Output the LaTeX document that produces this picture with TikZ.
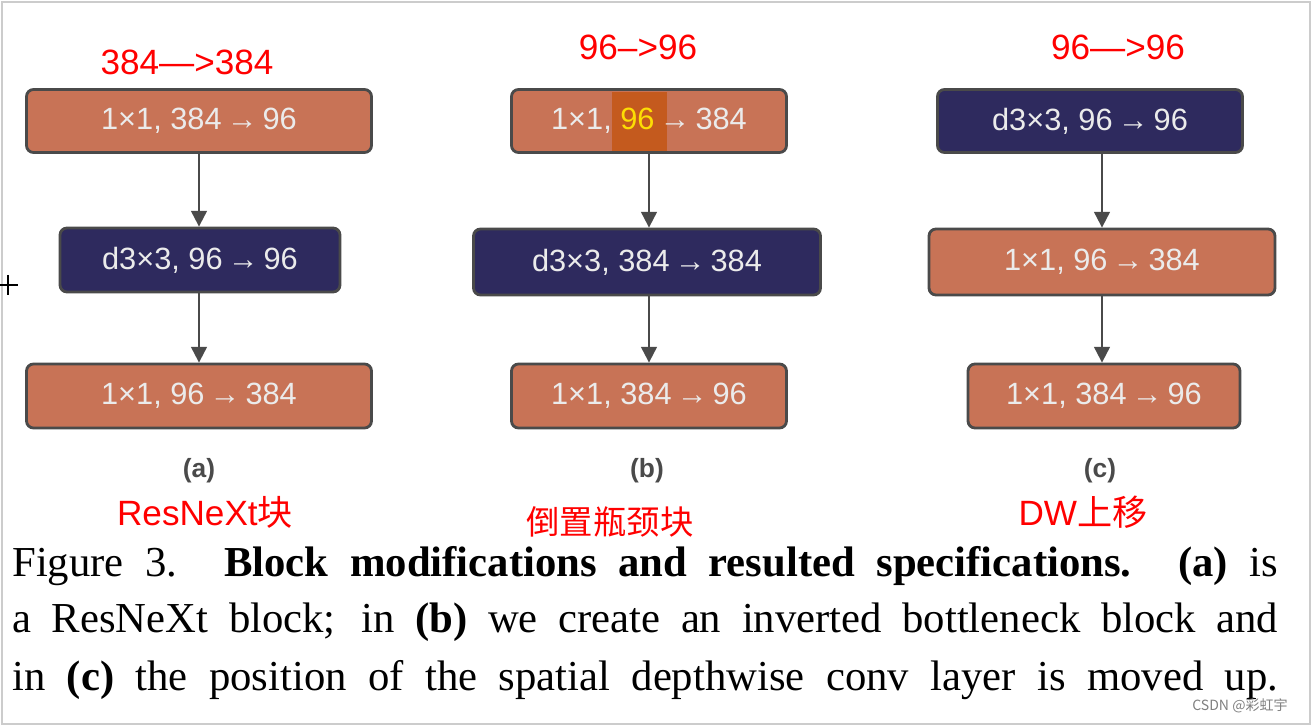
\documentclass[tikz,border=0pt]{standalone}
\usepackage{fontspec}
\setmainfont{Liberation Serif}
\newfontfamily\sfont{Liberation Sans}
\newfontfamily\cjk{Noto Sans CJK SC}
\usetikzlibrary{arrows.meta}
\definecolor{org}{HTML}{C87356}
\definecolor{nav}{HTML}{2E2A5E}
\definecolor{bd}{HTML}{4A4A4A}
\definecolor{hl}{HTML}{C45A1E}
\begin{document}
\begin{tikzpicture}[x=0.02cm,y=-0.02cm,
  blk/.style={draw=bd,line width=1.6pt,rounded corners=4pt,font=\sfont\fontsize{17.5}{19}\selectfont,text=white!92!black,inner sep=0},
  o/.style={blk,fill=org},
  n/.style={blk,fill=nav},
  arr/.style={draw=bd,line width=1.2pt,-{Triangle[length=9pt,width=9pt]}},
  red/.style={text=red,font=\sfont\fontsize{20}{22}\selectfont},
  cred/.style={text=red,font=\cjk\fontsize{19}{21}\selectfont},
  lab/.style={text=bd,font=\sfont\bfseries\fontsize{15}{17}\selectfont},
  captxt/.style={anchor=west,inner sep=0,font=\fontsize{24.3}{26}\selectfont}]
\useasboundingbox (0,0) rectangle (1312,726);
\draw[gray!40,line width=1pt] (2,2) rectangle (1310,724);
% (a)
\node[o,minimum width=345*0.02cm,minimum height=63*0.02cm] (a1) at (199,121) {1×1, 384\,→\,96};
\node[n,minimum width=280*0.02cm,minimum height=64*0.02cm] (a2) at (200,260) {d3×3, 96\,→\,96};
\node[o,minimum width=345*0.02cm,minimum height=64*0.02cm] (a3) at (199,396) {1×1, 96\,→\,384};
% (b)
\node[o,minimum width=275*0.02cm,minimum height=63*0.02cm] (b1) at (649,121) {};
\fill[hl] (612,92) rectangle (667,151);
\node[blk,draw=none,anchor=center] (b1t) at (b1.center) {1×1, \textcolor{yellow!80!orange}{96}\,→\,384};
\node[n,minimum width=347*0.02cm,minimum height=66*0.02cm] (b2) at (647,262) {d3×3, 384\,→\,384};
\node[o,minimum width=275*0.02cm,minimum height=64*0.02cm] (b3) at (649,396) {1×1, 384\,→\,96};
% (c)
\node[n,minimum width=305*0.02cm,minimum height=63*0.02cm] (c1) at (1090,121) {d3×3, 96\,→\,96};
\node[o,minimum width=346*0.02cm,minimum height=66*0.02cm] (c2) at (1102,262) {1×1, 96\,→\,384};
\node[o,minimum width=272*0.02cm,minimum height=64*0.02cm] (c3) at (1104,396) {1×1, 384\,→\,96};
\draw[arr] (a1) -- (a1 |- a2.north); \draw[arr] (a1.south |- a2.south) -- (a1 |- a3.north);
\draw[arr] (b1) -- (b1 |- b2.north); \draw[arr] (b1.south |- b2.south) -- (b1 |- b3.north);
\draw[arr] (c1.south -| c2) -- (c2); \draw[arr] (c2) -- (c2 |- c3.north);
% labels
\node[red] (r1) at (187,62) {384—>384};
\node[red] (r2) at (638,47) {96–>96};
\node[red] (r3) at (1118,47) {96—>96};
\node[lab] (la) at (199,471) {(a)};
\node[lab] (lb) at (647,471) {(b)};
\node[lab] (lc) at (1100,471) {(c)};
\node[red] (n1) at (205,512) {ResNeXt\cjk 块};
\node[cred] (n2) at (610,522) {倒置瓶颈块};
\node[red] (n3) at (1083,512) {DW\cjk 上移};
% cursor
\draw[black,line width=0.7pt] (0,285) -- (18,285) (8,275) -- (8,295);
% caption
\node[captxt] (l1) at (12,566) {\makebox[25.32cm][s]{Figure 3. \textbf{Block modifications and resulted specifications. (a)} is}};
\node[captxt] (l2) at (12,622) {\makebox[25.32cm][s]{a ResNeXt block; in \textbf{(b)} we create an inverted bottleneck block and}};
\node[captxt] (l3) at (12,680) {\makebox[25.32cm][s]{in \textbf{(c)} the position of the spatial depthwise conv layer is moved up.}};
\node[text=gray,font=\cjk\fontsize{8}{9}\selectfont] (wm) at (1240,706) {CSDN @彩虹宇};
\end{tikzpicture}
\end{document}
